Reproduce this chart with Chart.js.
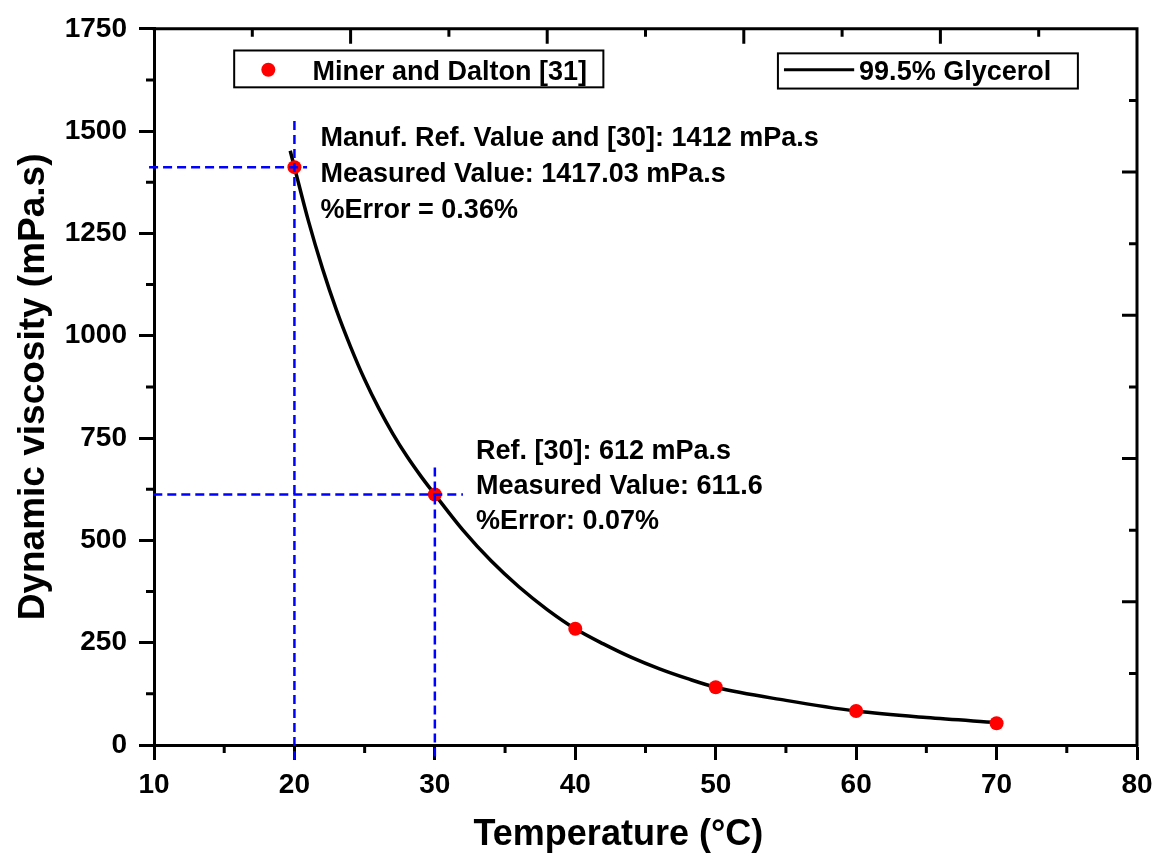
<!DOCTYPE html>
<html><head><meta charset="utf-8">
<script src="https://cdn.jsdelivr.net/npm/chart.js@4.4.1/dist/chart.umd.min.js"></script>
<style>html,body{margin:0;padding:0;background:#fff;}#wrap{width:1165px;height:860px;}</style>
</head><body><div id="wrap"><canvas id="c" width="1165" height="860"></canvas></div>
<script>
const FONT = '"Liberation Sans", Arial, Helvetica, sans-serif';

// ---- data ----
const pointTemps = [20, 30, 40, 50, 60, 70];
const pointVisc  = [1412, 612, 284, 141, 83, 53];
const curveTemps = [19.7, 20, 21, 22, 23, 24, 25, 26, 27, 28, 29, 30, 32, 34, 36, 38, 40, 42, 44, 46, 48, 50, 55, 60, 65, 70];
const curveVisc  = [1452, 1412, 1280, 1164, 1062, 973, 893, 823, 761, 706, 657, 612, 525, 450, 386, 331, 284, 247, 214, 186, 162, 141, 109, 83, 67, 55];
const pointLabel = 'Miner and Dalton [31]';
const curveLabel = '99.5% Glycerol';

// guide (dashed) lines
const vGuideX   = [20, 30];
const vGuideTop = [1525, 678];
const guideBottom = -36;
const hGuideY    = [1412, 612];
const hGuideFrom = [9.65, 9.95];
const hGuideTo   = [20.9, 32.0];

// annotations
const note1 = ['Manuf. Ref. Value and [30]: 1412 mPa.s', 'Measured Value: 1417.03 mPa.s', '%Error = 0.36%'];
const note2 = ['Ref. [30]: 612 mPa.s', 'Measured Value: 611.6', '%Error: 0.07%'];
const note1Pos = [21.86, 1463];
const note2Pos = [32.93, 700];

// axes
const xTicks = [10, 20, 30, 40, 50, 60, 70, 80];
const yTicks = [0, 250, 500, 750, 1000, 1250, 1500, 1750];
const xMinor = [15, 25, 35, 45, 55, 65, 75];
const yMinor = [125, 375, 625, 875, 1125, 1375, 1625];
const topTicks = [17, 24, 31, 38, 45, 52, 59, 66, 73];
const rightTicks = [175, 350, 525, 700, 875, 1050, 1225, 1400, 1575];
const xTitle = 'Temperature (\u00B0C)';
const yTitle = 'Dynamic viscosity (mPa.s)';
const xTitlePos = 43.07;

// legend boxes (in data coordinates)
const legend1Box = [15.71, 1697, 42.0, 1607];
const legend2Box = [54.43, 1690, 75.79, 1604];

const zip = (a, b) => a.map((v, i) => ({x: v, y: b[i]}));

const guideSets = [];
vGuideX.forEach((x, i) => guideSets.push([{x: x, y: vGuideTop[i]}, {x: x, y: guideBottom}]));
hGuideY.forEach((y, i) => guideSets.push([{x: hGuideFrom[i], y: y}, {x: hGuideTo[i], y: y}]));

const datasets = guideSets.map(d => ({
  label: 'guide', data: d, showLine: true, borderColor: '#0000ff', borderWidth: 2.5,
  borderDash: [9, 5], pointRadius: 0, clip: false, order: 0
}));
datasets.push({
  label: pointLabel, data: zip(pointTemps, pointVisc), showLine: false,
  pointRadius: 7, pointBackgroundColor: '#ff0000', pointBorderWidth: 0, pointBorderColor: '#ff0000', order: 1
});
datasets.push({
  label: curveLabel, data: zip(curveTemps, curveVisc), showLine: true, borderColor: '#000',
  borderWidth: 3.5, pointRadius: 0, cubicInterpolationMode: 'monotone', order: 2, clip: false
});

const extras = {
  id: 'extras',
  afterDraw(chart) {
    const ctx = chart.ctx, xs = chart.scales.x, ys = chart.scales.y, a = chart.chartArea;
    const px = v => xs.getPixelForValue(v), py = v => ys.getPixelForValue(v);
    ctx.save();
    ctx.strokeStyle = '#000'; ctx.lineWidth = 3; ctx.lineCap = 'butt';
    ctx.beginPath();
    ctx.moveTo(a.left - 1.5, a.top); ctx.lineTo(a.right + 1.5, a.top);
    ctx.moveTo(a.right, a.top); ctx.lineTo(a.right, a.bottom + 1.5);
    ctx.stroke();
    ctx.beginPath();
    xMinor.forEach(v => { const x = px(v); ctx.moveTo(x, a.bottom); ctx.lineTo(x, a.bottom + 8); });
    yMinor.forEach(v => { const y = py(v); ctx.moveTo(a.left, y); ctx.lineTo(a.left - 8, y); });
    topTicks.forEach((v, i) => { const x = px(v); ctx.moveTo(x, a.top); ctx.lineTo(x, a.top + (i % 2 ? 15 : 8)); });
    rightTicks.forEach((v, i) => { const y = py(v); ctx.moveTo(a.right, y); ctx.lineTo(a.right - (i % 2 ? 15 : 8), y); });
    ctx.stroke();

    // legends
    ctx.lineWidth = 2;
    [legend1Box, legend2Box].forEach(b => {
      ctx.strokeRect(px(b[0]), py(b[1]), px(b[2]) - px(b[0]), py(b[3]) - py(b[1]));
    });
    const ds = chart.data.datasets;
    const pset = ds.find(d => d.label === pointLabel), cset = ds.find(d => d.label === curveLabel);
    ctx.fillStyle = pset.pointBackgroundColor;
    ctx.beginPath(); ctx.arc(px(18.14), py(1650), 7, 0, Math.PI * 2); ctx.fill();
    ctx.strokeStyle = cset.borderColor; ctx.lineWidth = 3;
    ctx.beginPath(); ctx.moveTo(px(54.86), py(1650)); ctx.lineTo(px(59.86), py(1650)); ctx.stroke();
    ctx.fillStyle = '#000';
    ctx.textBaseline = 'alphabetic'; ctx.textAlign = 'left';
    ctx.font = 'bold 27px ' + FONT;
    ctx.fillText(pset.label, px(21.29), py(1624));
    ctx.fillText(cset.label, px(60.21), py(1626));

    // notes
    ctx.font = 'bold 27px ' + FONT;
    note1.forEach((t, i) => ctx.fillText(t, px(note1Pos[0]), py(note1Pos[1]) + i * 36));
    note2.forEach((t, i) => ctx.fillText(t, px(note2Pos[0]), py(note2Pos[1]) + i * 35));

    // x title
    ctx.font = 'bold 36px ' + FONT;
    ctx.textAlign = 'center';
    ctx.fillText(xTitle, px(xTitlePos), a.bottom + 100);
    ctx.restore();
  }
};

new Chart(document.getElementById('c').getContext('2d'), {
  type: 'scatter',
  data: {datasets},
  options: {
    responsive: false, animation: false, devicePixelRatio: 1,
    layout: {padding: {top: 25, right: 28, left: 0, bottom: 0}},
    plugins: {legend: {display: false}, tooltip: {enabled: false}},
    scales: {
      x: {
        type: 'linear', min: 10, max: 80,
        afterBuildTicks: s => { s.ticks = xTicks.map(v => ({value: v})); },
        afterFit: s => { s.height = 115; },
        ticks: {color: '#000', font: {family: FONT, size: 28, weight: 'bold'}, padding: 8, maxRotation: 0,
                callback: v => String(v)},
        grid: {drawOnChartArea: false, drawTicks: true, tickLength: 15, tickWidth: 3, tickColor: '#000'},
        border: {display: true, width: 3, color: '#000'},
        title: {display: false}
      },
      y: {
        type: 'linear', min: 0, max: 1750,
        afterBuildTicks: s => { s.ticks = yTicks.map(v => ({value: v})); },
        afterFit: s => { s.width = 154; },
        ticks: {color: '#000', font: {family: FONT, size: 28, weight: 'bold'}, padding: 12,
                callback: v => String(v)},
        grid: {drawOnChartArea: false, drawTicks: true, tickLength: 15, tickWidth: 3, tickColor: '#000'},
        border: {display: true, width: 3, color: '#000'},
        title: {display: true, text: yTitle, color: '#000', font: {family: FONT, size: 37, weight: 'bold'}, padding: {top: 12, bottom: 0}}
      }
    }
  },
  plugins: [extras]
});
</script></body></html>
